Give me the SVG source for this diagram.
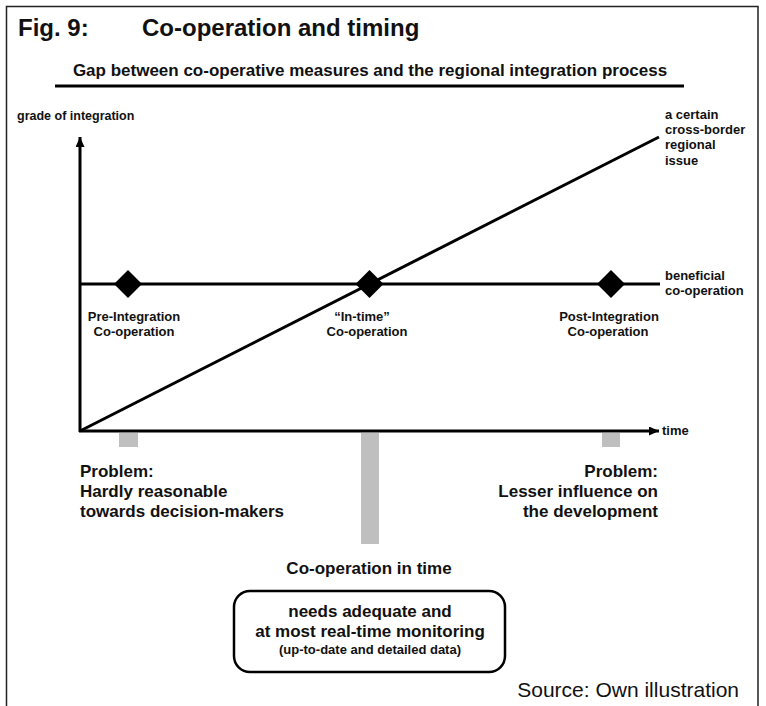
<svg xmlns="http://www.w3.org/2000/svg" width="766" height="706" viewBox="0 0 766 706">
<style>
text{font-family:"Liberation Sans",Arial,Helvetica,sans-serif;fill:#111;font-weight:bold}
.t24{font-size:24px}
.t17{font-size:17px}
.t13{font-size:13px}
.t12{font-size:12.5px}
.mid{text-anchor:middle}
.end{text-anchor:end}
.ln{stroke:#000;stroke-width:3;fill:none}
.bar{fill:#bfbfbf}
.dia{fill:#000}
</style>
<defs>
<marker id="arr" markerUnits="userSpaceOnUse" viewBox="0 0 10 9" refX="10" refY="4.5" markerWidth="10" markerHeight="9" orient="auto">
<path d="M0,0 L10,4.5 L0,9 z" fill="#000"/>
</marker>
</defs>
<rect width="766" height="706" fill="#fff"/>
<path d="M6.5,706 V6.5 H758 V706" fill="none" stroke="#222" stroke-width="1.5"/>

<g id="title">
<text class="t24" x="18" y="36">Fig. 9:</text>
<text class="t24" x="142" y="36">Co-operation and timing</text>
</g>
<g id="subtitle">
<text class="t17 mid" x="370" y="76">Gap between co-operative measures and the regional integration process</text>
<line x1="55" y1="86" x2="684" y2="86" stroke="#000" stroke-width="3"/>
</g>

<g id="connectors">
<line class="ln" x1="80" y1="432" x2="80" y2="137" marker-end="url(#arr)"/>
<line class="ln" x1="79" y1="431" x2="659" y2="431" marker-end="url(#arr)"/>
<line class="ln" x1="80" y1="431" x2="659" y2="137"/>
<line class="ln" x1="80" y1="284" x2="660" y2="284"/>
</g>

<g id="y-label"><text class="t12" x="17" y="120">grade of integration</text></g>
<g id="x-label"><text class="t13" x="662" y="435">time</text></g>
<g id="issue-label">
<text class="t13" x="665" y="119">a certain</text>
<text class="t13" x="665" y="134">cross-border</text>
<text class="t13" x="665" y="149">regional</text>
<text class="t13" x="665" y="165">issue</text>
</g>
<g id="beneficial-label">
<text class="t13" x="665" y="280">beneficial</text>
<text class="t13" x="665" y="295">co-operation</text>
</g>

<g id="pre-integration">
<path class="dia" d="M128,270 L142,284 L128,298 L114,284 z"/>
<text class="t13 mid" x="134" y="321">Pre-Integration</text>
<text class="t13 mid" x="134" y="336">Co-operation</text>
<rect class="bar" x="119" y="433" width="19" height="14"/>
</g>
<g id="in-time">
<path class="dia" d="M369.5,270 L383.5,284 L369.5,298 L355.5,284 z"/>
<text class="t13 mid" x="362" y="321">“In-time”</text>
<text class="t13 mid" x="367" y="336">Co-operation</text>
<rect class="bar" x="361" y="433" width="18" height="111"/>
</g>
<g id="post-integration">
<path class="dia" d="M611,270 L625,284 L611,298 L597,284 z"/>
<text class="t13 mid" x="609" y="321">Post-Integration</text>
<text class="t13 mid" x="608" y="336">Co-operation</text>
<rect class="bar" x="602" y="433" width="18" height="14"/>
</g>

<g id="problem-left">
<text class="t17" x="80" y="477">Problem:</text>
<text class="t17" x="80" y="497">Hardly reasonable</text>
<text class="t17" x="80" y="517">towards decision-makers</text>
</g>
<g id="problem-right">
<text class="t17 end" x="658" y="477">Problem:</text>
<text class="t17 end" x="658" y="497">Lesser influence on</text>
<text class="t17 end" x="658" y="517">the development</text>
</g>

<g id="in-time-label"><text class="t17 mid" x="369" y="574">Co-operation in time</text></g>
<g id="monitoring-box">
<rect x="234" y="591" width="271" height="81" rx="16" fill="#fff" stroke="#000" stroke-width="2.5"/>
<text class="t17 mid" x="370" y="617">needs adequate and</text>
<text class="t17 mid" x="370" y="637">at most real-time monitoring</text>
<text class="mid" x="370" y="654" style="font-size:13px">(up-to-date and detailed data)</text>
</g>
<g id="source"><text class="end" x="739" y="697" style="font-size:21px;font-weight:normal">Source: Own illustration</text></g>
</svg>
